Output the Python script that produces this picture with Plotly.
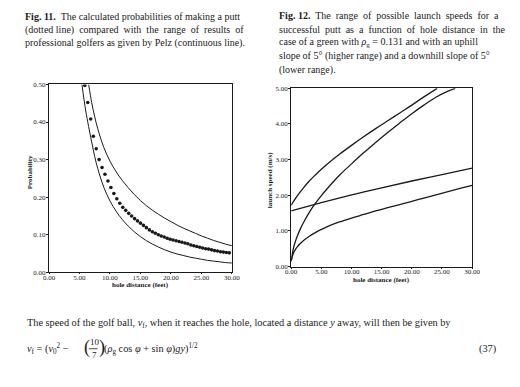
import plotly.graph_objects as go

# page has an 8px body margin, so the figure is drawn 8px smaller and all
# pixel positions below are given in page coordinates
OFF = 8
W, H = 520 - OFF, 387 - OFF

# ---------------- Fig. 11 data ----------------
dot_x = [5.87, 6.36, 6.84, 7.27, 7.74, 8.22, 8.70, 9.18, 9.67, 10.15,
         10.64, 11.12, 11.61, 12.10, 12.58, 13.07, 13.55, 14.04, 14.52, 15.01,
         15.50, 15.98, 16.47, 16.95, 17.44, 17.93, 18.41, 18.90, 19.38, 19.87,
         20.35, 20.84, 21.33, 21.81, 22.30, 22.78, 23.27, 23.75, 24.24, 24.73,
         25.21, 25.70, 26.18, 26.67, 27.15, 27.64, 28.13, 28.61, 29.10, 29.58]
dot_p = [0.497, 0.452, 0.408, 0.362, 0.329, 0.300, 0.279, 0.261, 0.243, 0.226,
         0.210, 0.196, 0.184, 0.173, 0.165, 0.157, 0.150, 0.143, 0.137, 0.131,
         0.125, 0.119, 0.113, 0.108, 0.104, 0.100, 0.097, 0.094, 0.091, 0.088,
         0.086, 0.084, 0.082, 0.080, 0.078, 0.076, 0.073, 0.071, 0.069, 0.067,
         0.065, 0.063, 0.062, 0.060, 0.058, 0.057, 0.055, 0.054, 0.053, 0.052]

pelz_hi_x = [6.5, 7.0, 7.5, 8.0, 9.0, 10.0, 11.0, 12.0, 13.0, 14.0, 15.0, 16.0, 17.0,
             18.0, 19.0, 20.0, 21.0, 22.0, 23.0, 24.0, 25.0, 26.0, 27.0, 28.0, 29.0, 30.0]
pelz_hi_p = [0.500, 0.452, 0.414, 0.382, 0.332, 0.296, 0.268, 0.245, 0.225, 0.207, 0.191,
             0.177, 0.165, 0.154, 0.144, 0.135, 0.126, 0.118, 0.111, 0.104, 0.097,
             0.091, 0.085, 0.080, 0.075, 0.071]

pelz_lo_x = [5.4, 6.0, 6.5, 7.0, 7.5, 8.0, 9.0, 10.0, 11.0, 12.0, 13.0, 14.0, 15.0, 16.0,
             17.0, 18.0, 19.0, 20.0, 21.0, 22.0, 23.0, 24.0, 25.0, 26.0, 27.0, 28.0, 29.0, 30.0]
pelz_lo_p = [0.500, 0.432, 0.388, 0.347, 0.308, 0.276, 0.226, 0.190, 0.163, 0.141, 0.123,
             0.108, 0.095, 0.084, 0.075, 0.067, 0.060, 0.054, 0.049, 0.045, 0.041, 0.038,
             0.035, 0.032, 0.030, 0.028, 0.026, 0.025]

# ---------------- Fig. 12 data ----------------
up_hi_x = [0, 1, 2, 3, 4, 5, 6, 8, 10, 12, 14, 16, 18, 20, 22, 24.2]
up_hi_v = [1.72, 1.98, 2.20, 2.40, 2.57, 2.73, 2.88, 3.15, 3.40, 3.64, 3.87, 4.09, 4.31,
           4.53, 4.76, 5.00]

up_lo_x = [0, 0.25, 0.5, 1, 1.5, 2, 3, 4, 5, 6, 8, 10, 12, 14, 16, 18, 20, 22, 24, 26, 27.2]
up_lo_v = [0.15, 0.42, 0.60, 0.85, 1.05, 1.22, 1.52, 1.77, 1.99, 2.19, 2.56, 2.88, 3.19,
           3.48, 3.76, 4.03, 4.29, 4.53, 4.75, 4.92, 5.00]

dn_hi_x = [0, 5, 10, 15, 20, 25, 30]
dn_hi_v = [1.56, 1.79, 2.01, 2.21, 2.40, 2.58, 2.76]

dn_lo_x = [0, 0.25, 0.5, 1, 2, 3, 4, 5, 6, 8, 10, 12, 14, 16, 18, 20, 22, 24, 26, 28, 30]
dn_lo_v = [0.15, 0.32, 0.42, 0.55, 0.72, 0.85, 0.95, 1.04, 1.12, 1.25, 1.36, 1.46, 1.56,
           1.65, 1.74, 1.83, 1.92, 2.01, 2.10, 2.19, 2.28]

x_ticks = [0, 5, 10, 15, 20, 25, 30]
x_tick_text = ["0.00", "5.00", "10.00", "15.00", "20.00", "25.00", "30.00"]
p_ticks = [0, 0.1, 0.2, 0.3, 0.4, 0.5]
p_tick_text = ["0.00", "0.10", "0.20", "0.30", "0.40", "0.50"]
v_ticks = [0, 1, 2, 3, 4, 5]
v_tick_text = ["0.00", "1.00", "2.00", "3.00", "4.00", "5.00"]

SERIF = "Liberation Serif"
INK = "#1a1a1a"


def px(x):
    return (x - OFF) / W


def py(y):
    return 1 - (y - OFF) / H


fig = go.Figure()

fig.add_trace(go.Scatter(x=pelz_hi_x, y=pelz_hi_p, mode="lines", line=dict(color=INK, width=1),
                         line_shape="spline", xaxis="x", yaxis="y", showlegend=False))
fig.add_trace(go.Scatter(x=pelz_lo_x, y=pelz_lo_p, mode="lines", line=dict(color=INK, width=1),
                         line_shape="spline", xaxis="x", yaxis="y", showlegend=False))
fig.add_trace(go.Scatter(x=dot_x, y=dot_p, mode="markers", marker=dict(color=INK, size=3.6),
                         xaxis="x", yaxis="y", showlegend=False))

for xs, ys in [(up_hi_x, up_hi_v), (up_lo_x, up_lo_v), (dn_hi_x, dn_hi_v), (dn_lo_x, dn_lo_v)]:
    fig.add_trace(go.Scatter(x=xs, y=ys, mode="lines", line=dict(color=INK, width=1.3),
                             line_shape="spline", xaxis="x2", yaxis="y2", showlegend=False))

tickfont = dict(family=SERIF, size=7, color=INK)
xcommon = dict(showgrid=False, zeroline=False, showline=True, mirror=True, linecolor=INK,
               linewidth=1, ticks="outside", ticklen=1, tickcolor=INK, tickfont=tickfont,
               ticklabelstandoff=-3)
ycommon = dict(showgrid=False, zeroline=False, showline=True, mirror=True, linecolor=INK,
               linewidth=1, ticks="outside", ticklen=2, tickcolor=INK, tickfont=tickfont,
               ticklabelstandoff=-1)

fig.update_layout(
    width=W, height=H, margin=dict(l=0, r=0, t=0, b=0),
    paper_bgcolor="white", plot_bgcolor="white",
    xaxis=dict(domain=[px(44), px(232)], range=[0, 30], tickvals=x_ticks, ticktext=x_tick_text,
               anchor="y", **xcommon),
    yaxis=dict(domain=[py(274), py(82)], range=[0, 0.5], tickvals=p_ticks, ticktext=p_tick_text,
               anchor="x", **ycommon),
    xaxis2=dict(domain=[px(293), px(479)], range=[0, 30], tickvals=x_ticks, ticktext=x_tick_text,
                anchor="y2", **xcommon),
    yaxis2=dict(domain=[py(268), py(86)], range=[0, 5], tickvals=v_ticks, ticktext=v_tick_text,
                anchor="x2", **ycommon),
)

ann = []


def text(x, y, t, size=10, xanchor="left", angle=0, bold=False):
    if bold:
        t = "<b>" + t + "</b>"
    ann.append(dict(x=px(x), y=py(y), xref="paper", yref="paper", text=t, showarrow=False,
                    xanchor=xanchor, yanchor="middle", textangle=angle, borderpad=0,
                    font=dict(family=SERIF, size=size, color=INK)))


# captions
cap11 = ["<b>Fig. 11.</b>  The calculated probabilities of making a putt",
         "(dotted line)  compared  with  the  range  of  results  of",
         "professional golfers as given by Pelz (continuous line)."]
for i, line in enumerate(cap11):
    text(18, 12.5 + i * 13.4, line, size=10)

cap12 = ["<b>Fig. 12.</b>  The  range  of  possible  launch  speeds  for  a",
         "successful  putt  as  a  function  of  hole  distance  in  the",
         "case of a green with <i>ρ</i><sub>g</sub> = 0.131 and with an uphill",
         "slope of 5° (higher range) and a downhill slope of 5°",
         "(lower range)."]
for i, line in enumerate(cap12):
    text(279, 12 + i * 13.7, line, size=10)

# axis titles
text(138, 287, "hole distance (feet)", size=7, xanchor="center", bold=True)
text(19, 172, "Probability", size=7, xanchor="left", angle=-90, bold=True)
text(386, 282, "hole distance (feet)", size=7, xanchor="center", bold=True)
text(272, 180, "launch speed (m/s)", size=7, xanchor="center", angle=-90, bold=True)

# body text
text(20, 326.5, "The speed of the golf ball, <i>v</i><sub>f</sub>, when it reaches the hole, "
     "located a distance <i>y</i> away, will then be given by", size=10.3)
text(20, 352, "<i>v</i><sub>f</sub> = (<i>v</i><sub>0</sub><sup>2</sup> −", size=10.3)
text(78.5, 351, "(", size=18)
text(85.5, 345.5, "10", size=9)
text(87.5, 358.5, "7", size=9)
text(94, 351, ")", size=18)
text(100, 352, "(<i>ρ</i><sub>g</sub> cos <i>φ</i> + sin <i>φ</i>)<i>gy</i>)<sup>1/2</sup>", size=10.3)
text(505, 352, "(37)", size=10.3, xanchor="right")

fig.update_layout(annotations=ann,
                  shapes=[dict(type="line", xref="paper", yref="paper", x0=px(85), x1=px(94),
                               y0=py(352), y1=py(352), line=dict(color=INK, width=0.8))])

fig.write_html("out.html")
